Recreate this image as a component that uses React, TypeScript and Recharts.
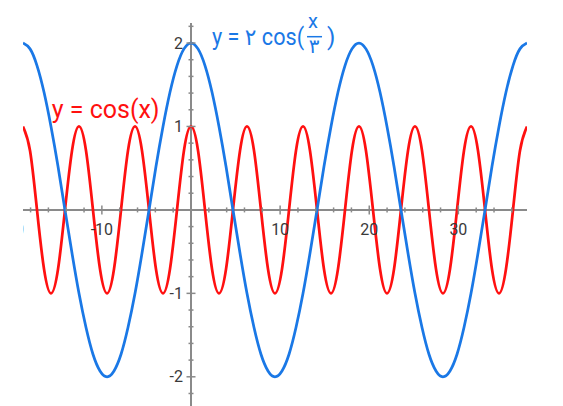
import { LineChart, Line, XAxis, YAxis, ReferenceLine, ReferenceDot } from "recharts";

// sample positions, quarter of PI apart, from -6PI to 12PI
const xs = [
  -18.85, -18.06, -17.28, -16.49, -15.71, -14.92, -14.14, -13.35, -12.57, -11.78, -11.0, -10.21,
  -9.42, -8.64, -7.85, -7.07, -6.28, -5.5, -4.71, -3.93, -3.14, -2.36, -1.57, -0.79,
  0, 0.79, 1.57, 2.36, 3.14, 3.93, 4.71, 5.5, 6.28, 7.07, 7.85, 8.64,
  9.42, 10.21, 11.0, 11.78, 12.57, 13.35, 14.14, 14.92, 15.71, 16.49, 17.28, 18.06,
  18.85, 19.63, 20.42, 21.21, 21.99, 22.78, 23.56, 24.35, 25.13, 25.92, 26.7, 27.49,
  28.27, 29.06, 29.85, 30.63, 31.42, 32.2, 32.99, 33.77, 34.56, 35.34, 36.13, 36.91,
  37.7,
];

// y = cos(x)
const cosY = [
  1, 0.71, 0, -0.71, -1, -0.71, 0, 0.71,
  1, 0.71, 0, -0.71, -1, -0.71, 0, 0.71,
  1, 0.71, 0, -0.71, -1, -0.71, 0, 0.71,
  1, 0.71, 0, -0.71, -1, -0.71, 0, 0.71,
  1, 0.71, 0, -0.71, -1, -0.71, 0, 0.71,
  1, 0.71, 0, -0.71, -1, -0.71, 0, 0.71,
  1, 0.71, 0, -0.71, -1, -0.71, 0, 0.71,
  1, 0.71, 0, -0.71, -1, -0.71, 0, 0.71,
  1, 0.71, 0, -0.71, -1, -0.71, 0, 0.71,
  1,
];

// y = 2cos(x/3)
const cos3Y = [
  2, 1.93, 1.73, 1.41, 1, 0.52, 0, -0.52, -1, -1.41, -1.73, -1.93,
  -2, -1.93, -1.73, -1.41, -1, -0.52, 0, 0.52, 1, 1.41, 1.73, 1.93,
  2, 1.93, 1.73, 1.41, 1, 0.52, 0, -0.52, -1, -1.41, -1.73, -1.93,
  -2, -1.93, -1.73, -1.41, -1, -0.52, 0, 0.52, 1, 1.41, 1.73, 1.93,
  2, 1.93, 1.73, 1.41, 1, 0.52, 0, -0.52, -1, -1.41, -1.73, -1.93,
  -2, -1.93, -1.73, -1.41, -1, -0.52, 0, 0.52, 1, 1.41, 1.73, 1.93,
  2,
];

const xDomain = [-18.85, 37.7];
const xLabels = [-20, -10, 10, 20, 30];
const xMinor = [-18, -16, -14, -12, -8, -6, -4, -2, 2, 4, 6, 8, 12, 14, 16, 18, 22, 24, 26, 28, 32, 34, 36];
const yLabels = [-2, -1, 1, 2];
const yMinor = [
  -2.2, -1.8, -1.6, -1.4, -1.2, -0.8, -0.6, -0.4, -0.2, 0.2, 0.4, 0.6, 0.8, 1.2, 1.4, 1.6, 1.8, 2.2,
];

const data = xs.map((x, i) => ({ x, cos: cosY[i], cos3: cos3Y[i] }));

const AXIS = "#8a8a8a";
const TEXT = "#3a3a3a";
const RED = "#ff1010";
const BLUE = "#1a78e6";
const FONT = "Roboto, 'DejaVu Sans', sans-serif";

const vTick = (len: number) => (p: any) => (
  <line x1={p.cx} x2={p.cx} y1={p.cy - len} y2={p.cy + len} stroke={AXIS} strokeWidth={1.5} />
);
const hTick = (len: number) => (p: any) => (
  <line x1={p.cx - len} x2={p.cx + len} y1={p.cy} y2={p.cy} stroke={AXIS} strokeWidth={1.5} />
);

export default function App() {
  return (
    <div style={{ position: "absolute", left: 0, top: 0, background: "#fff" }}>
      <LineChart width={563} height={406} data={data} margin={{ top: 23, right: 36, bottom: 0, left: 23 }}>
        <XAxis type="number" dataKey="x" domain={xDomain} hide allowDataOverflow />
        <YAxis type="number" domain={[-2.35, 2.24]} hide allowDataOverflow />
        {/* clip that starts at the left end of the x range, for the cut -20 label */}
        <ReferenceDot
          x={xDomain[0]}
          y={0}
          r={0}
          shape={(p: any) => (
            <clipPath id="leftEdge">
              <rect x={p.cx} y={0} width={600} height={420} />
            </clipPath>
          )}
        />
        <ReferenceLine x={0} stroke={AXIS} strokeWidth={2} />
        <ReferenceLine y={0} stroke={AXIS} strokeWidth={2} />
        {xMinor.map((t) => (
          <ReferenceDot key={`xm${t}`} x={t} y={0} r={0} shape={vTick(2.5)} />
        ))}
        {yMinor.map((t) => (
          <ReferenceDot key={`ym${t}`} x={0} y={t} r={0} shape={hTick(2.5)} />
        ))}
        {xLabels.map((t) => (
          <ReferenceDot
            key={`xl${t}`}
            x={t}
            y={0}
            r={0}
            ifOverflow="visible"
            shape={(p: any) => (
              <g clipPath="url(#leftEdge)">
                <line x1={p.cx} x2={p.cx} y1={p.cy - 4.5} y2={p.cy + 4.5} stroke={AXIS} strokeWidth={1.5} />
                <text x={p.cx} y={p.cy + 25} textAnchor="middle" fontSize={16} fill={TEXT} fontFamily={FONT}>
                  {t < 0 ? `-${-t}` : t}
                </text>
              </g>
            )}
          />
        ))}
        {yLabels.map((t) => (
          <ReferenceDot
            key={`yl${t}`}
            x={0}
            y={t}
            r={0}
            shape={(p: any) => (
              <g>
                <line x1={p.cx - 4.5} x2={p.cx + 4.5} y1={p.cy} y2={p.cy} stroke={AXIS} strokeWidth={1.5} />
                <text x={p.cx - 8} y={p.cy + 5.7} textAnchor="end" fontSize={16} fill={TEXT} fontFamily={FONT}>
                  {t < 0 ? `-${-t}` : t}
                </text>
              </g>
            )}
          />
        ))}
        <Line type="natural" dataKey="cos" stroke={RED} strokeWidth={2.75} dot={false} isAnimationActive={false} />
        <Line type="natural" dataKey="cos3" stroke={BLUE} strokeWidth={2.75} dot={false} isAnimationActive={false} />
        <ReferenceDot
          x={-15.63}
          y={1.1}
          r={0}
          shape={(p: any) => (
            <text x={p.cx} y={p.cy} fontSize={25} fill={RED} fontFamily={FONT}>
              y = cos(x)
            </text>
          )}
        />
        <ReferenceDot
          x={2.36}
          y={1.98}
          r={0}
          shape={(p: any) => (
            <g fill={BLUE} fontFamily={FONT}>
              <text x={p.cx} y={p.cy} fontSize={23} textLength={92} lengthAdjust="spacingAndGlyphs">
                y = ۲ cos(
              </text>
              <text x={p.cx + 101} y={p.cy - 17} fontSize={20} textAnchor="middle">
                x
              </text>
              <line x1={p.cx + 95} x2={p.cx + 110} y1={p.cy - 8} y2={p.cy - 8} stroke={BLUE} strokeWidth={1.5} />
              <text x={p.cx + 102} y={p.cy + 8} fontSize={20} textAnchor="middle">
                ۳
              </text>
              <text x={p.cx + 115} y={p.cy} fontSize={24}>
                )
              </text>
            </g>
          )}
        />
      </LineChart>
    </div>
  );
}
